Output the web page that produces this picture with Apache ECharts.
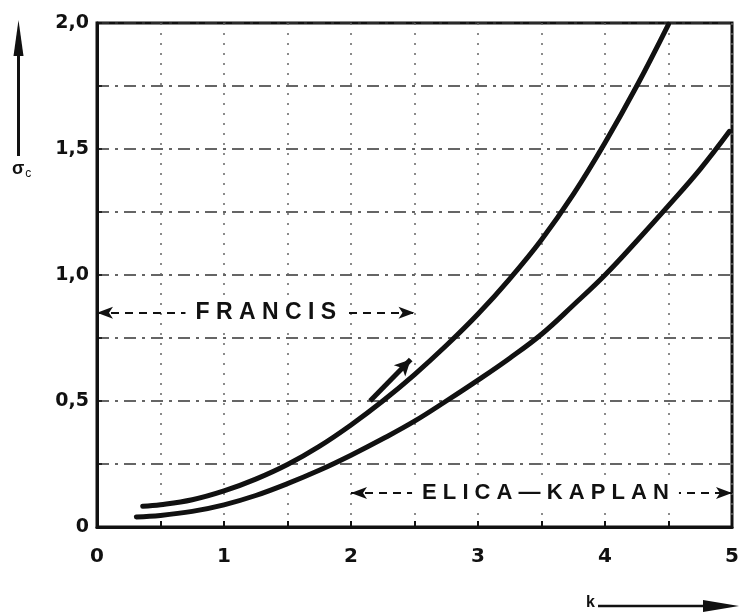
<!DOCTYPE html>
<html>
<head>
<meta charset="utf-8">
<script src="https://cdn.jsdelivr.net/npm/echarts@6/dist/echarts.min.js"></script>
<style>
html,body{margin:0;padding:0;background:#fff;}
#chart{width:744px;height:614px;}
</style>
</head>
<body>
<div id="chart"></div>
<script>
// Upper curve (Francis)
var upperK     = [0.36, 0.5, 0.75, 1.0, 1.25, 1.5, 1.75, 2.0, 2.25, 2.5, 2.75, 3.0, 3.25, 3.5, 3.75, 4.0, 4.25, 4.5];
var upperSigma = [0.082, 0.088, 0.108, 0.143, 0.19, 0.248, 0.32, 0.405, 0.5, 0.605, 0.72, 0.845, 0.985, 1.14, 1.32, 1.525, 1.75, 1.995];
// Lower curve (Elica-Kaplan)
var lowerK     = [0.31, 0.5, 0.75, 1.0, 1.25, 1.5, 1.75, 2.0, 2.25, 2.5, 2.75, 3.0, 3.25, 3.5, 3.75, 4.0, 4.25, 4.5, 4.75, 4.98];
var lowerSigma = [0.04, 0.046, 0.062, 0.088, 0.125, 0.172, 0.225, 0.285, 0.35, 0.42, 0.5, 0.583, 0.67, 0.765, 0.88, 1.0, 1.135, 1.275, 1.42, 1.57];

// Tick labels
var xTickValues = [0, 1, 2, 3, 4, 5];
var xTickLabels = ['0', '1', '2', '3', '4', '5'];
var yTickValues = [0, 0.5, 1.0, 1.5, 2.0];
var yTickLabels = ['0', '0,5', '1,0', '1,5', '2,0'];

// Range annotations
var francisText = 'F R A N C I S';
var francisRange = [0, 2.5];
var francisLevel = 0.85;
var kaplanText = 'E L I C A — K A P L A N';
var kaplanRange = [2, 5];
var kaplanLevel = 0.135;
// small arrow along upper curve
var francisArrow = [[2.15, 0.5], [2.47, 0.665]];

function zip(a, b) { return a.map(function (v, i) { return [v, b[i]]; }); }
function labelFor(values, labels) {
  return function (v) {
    for (var i = 0; i < values.length; i++) {
      if (Math.abs(values[i] - v) < 1e-6) return labels[i];
    }
    return '';
  };
}

var FONT = 'Liberation Sans';
var TICKFONT = 'DejaVu Sans';
var chart = echarts.init(document.getElementById('chart'), null, {renderer: 'canvas'});

var rangeLabel = function (text, size, dx) {
  return {
    show: true, position: 'middle', distance: 0, verticalAlign: 'middle', offset: [dx, 0],
    formatter: text, color: '#111', fontFamily: FONT, fontWeight: 'bold', fontSize: size,
    backgroundColor: '#fff', padding: [2, 10]
  };
};

var option = {
  backgroundColor: '#ffffff',
  animation: false,
  grid: {
    left: 97, right: 12, top: 23, bottom: 87,
    show: true, borderColor: '#111', borderWidth: 3
  },
  xAxis: {
    type: 'value', min: 0, max: 5, interval: 0.5,
    axisLine: {show: true, lineStyle: {color: '#111', width: 3}},
    axisTick: {show: true, inside: true, length: 6, lineStyle: {color: '#111', width: 2}},
    axisLabel: {
      margin: 20, color: '#111', fontFamily: TICKFONT, fontWeight: 'bold', fontSize: 20,
      formatter: labelFor(xTickValues, xTickLabels), showMaxLabel: true, showMinLabel: true
    },
    splitLine: {show: true, lineStyle: {color: '#666', width: 1.5, type: [2, 8]}}
  },
  yAxis: {
    type: 'value', min: 0, max: 2, interval: 0.25,
    axisLine: {show: true, lineStyle: {color: '#111', width: 3}},
    axisTick: {show: true, inside: true, length: 5, lineStyle: {color: '#111', width: 1.5}},
    axisLabel: {
      margin: 8, color: '#111', fontFamily: TICKFONT, fontWeight: 'bold', fontSize: 19,
      formatter: labelFor(yTickValues, yTickLabels)
    },
    splitLine: {show: true, lineStyle: {color: '#333', width: 1.5, type: [12, 6, 3, 6]}}
  },
  series: [
    {
      name: 'upper', type: 'line', data: zip(upperK, upperSigma),
      smooth: 0.4, symbol: 'none', clip: true,
      lineStyle: {color: '#111', width: 5, cap: 'round'},
      markLine: {
        silent: true, animation: false,
        data: [
          [
            {coord: [francisRange[0], francisLevel], symbol: 'arrow', symbolSize: [9, 16]},
            {coord: [francisRange[1], francisLevel], symbol: 'arrow', symbolSize: [9, 16],
             label: rangeLabel(francisText, 23, 10)}
          ],
          [
            {coord: [kaplanRange[0], kaplanLevel], symbol: 'arrow', symbolSize: [9, 16]},
            {coord: [kaplanRange[1], kaplanLevel], symbol: 'arrow', symbolSize: [9, 16],
             label: rangeLabel(kaplanText, 22, 4)}
          ],
          [
            {coord: francisArrow[0], symbol: 'none', lineStyle: {type: 'solid', width: 5, color: '#111'}},
            {coord: francisArrow[1], symbol: 'arrow', symbolSize: [12, 16], label: {show: false}}
          ]
        ],
        lineStyle: {color: '#111', width: 2, type: [8, 6]},
        label: {show: false}
      }
    },
    {
      name: 'lower', type: 'line', data: zip(lowerK, lowerSigma),
      smooth: 0.4, symbol: 'none', clip: true,
      lineStyle: {color: '#111', width: 5, cap: 'round'}
    }
  ],
  graphic: [
    {type: 'line', shape: {x1: 18.5, y1: 156, x2: 18.5, y2: 45}, style: {stroke: '#111', lineWidth: 3}},
    {type: 'polygon', shape: {points: [[13.5, 56], [18.5, 20], [23.5, 56]]}, style: {fill: '#111'}},
    {type: 'text', left: 12, top: 160, style: {
      text: '{s|σ}{c|c}', rich: {
        s: {fontFamily: FONT, fontWeight: 'bold', fontSize: 18, fill: '#111'},
        c: {fontFamily: FONT, fontSize: 12, fill: '#111', padding: [10, 0, 0, 1]}
      }}},
    {type: 'text', left: 586, top: 595, style: {text: 'k', fontFamily: FONT, fontWeight: 'bold', fontSize: 16, fill: '#111'}},
    {type: 'line', shape: {x1: 598, y1: 606, x2: 712, y2: 606}, style: {stroke: '#111', lineWidth: 2.5}},
    {type: 'polygon', shape: {points: [[703, 600], [739, 606], [703, 612]]}, style: {fill: '#111'}}
  ]
};
chart.setOption(option);
</script>
</body>
</html>
